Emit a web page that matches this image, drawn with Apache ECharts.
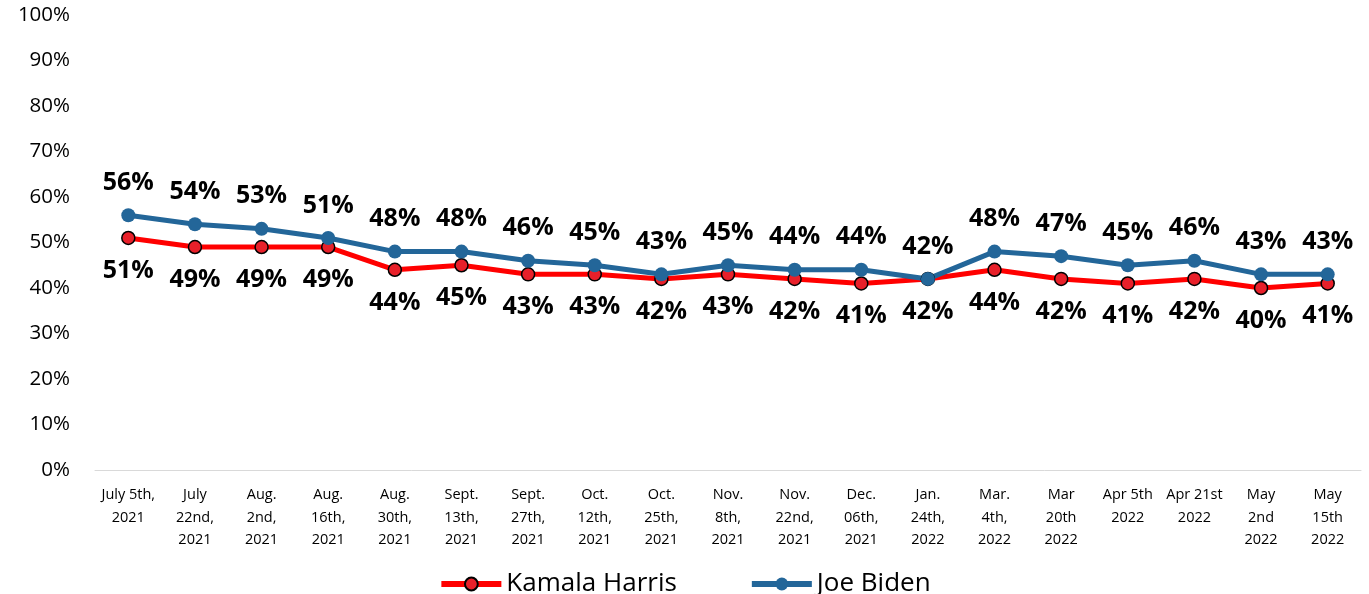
<!DOCTYPE html>
<html>
<head>
<meta charset="utf-8">
<script src="https://cdn.jsdelivr.net/npm/echarts@6/dist/echarts.min.js"></script>
<style>
  html, body { margin: 0; padding: 0; background: #fff; }
  #main { width: 1369px; height: 594px; }
</style>
</head>
<body>
<div id="main"></div>
<script>
var categories = [
  "July 5th,\n2021", "July\n22nd,\n2021", "Aug.\n2nd,\n2021", "Aug.\n16th,\n2021",
  "Aug.\n30th,\n2021", "Sept.\n13th,\n2021", "Sept.\n27th,\n2021", "Oct.\n12th,\n2021",
  "Oct.\n25th,\n2021", "Nov.\n8th,\n2021", "Nov.\n22nd,\n2021", "Dec.\n06th,\n2021",
  "Jan.\n24th,\n2022", "Mar.\n4th,\n2022", "Mar\n20th\n2022", "Apr 5th\n2022",
  "Apr 21st\n2022", "May\n2nd\n2022", "May\n15th\n2022"
];
var harris = [51, 49, 49, 49, 44, 45, 43, 43, 42, 43, 42, 41, 42, 44, 42, 41, 42, 40, 41];
var biden = [56, 54, 53, 51, 48, 48, 46, 45, 43, 45, 44, 44, 42, 48, 47, 45, 46, 43, 43];

var font = "Open Sans";
var myChart = echarts.init(document.getElementById('main'));

var option = {
    animation: false,
    textStyle: { fontFamily: font },
    grid: { left: 95, right: 8, top: 15, bottom: 124 },
    legend: {
        top: 566,
        left: 'center',
        itemGap: 72,
        itemWidth: 60,
        itemHeight: 16,
        textStyle: { fontSize: 26, color: '#000', fontFamily: font },
        data: [
            { name: 'Kamala Harris', lineStyle: { width: 6 } },
            { name: 'Joe Biden', lineStyle: { width: 6 } }
        ]
    },
    xAxis: {
        type: 'category',
        data: categories,
        axisLine: { lineStyle: { color: '#d9d9d9', width: 1 } },
        axisTick: { show: false },
        axisLabel: { color: '#000', fontSize: 14.5, lineHeight: 22.5, interval: 0, margin: 14 }
    },
    yAxis: {
        type: 'value',
        min: 0,
        max: 100,
        interval: 10,
        splitLine: { show: false },
        axisLine: { show: false },
        axisTick: { show: false },
        axisLabel: { color: '#000', fontSize: 20.5, margin: 25, formatter: '{value}%' }
    },
    series: [
        {
            name: 'Kamala Harris',
            type: 'line',
            data: harris,
            symbol: 'circle',
            symbolSize: 13,
            lineStyle: { color: '#ff0000', width: 5 },
            itemStyle: { color: '#e8202a', borderColor: '#000', borderWidth: 1.5 },
            label: {
                show: true,
                position: 'bottom',
                distance: 13,
                formatter: '{c}%',
                fontSize: 25,
                fontWeight: 'bold',
                color: '#000'
            }
        },
        {
            name: 'Joe Biden',
            type: 'line',
            data: biden,
            symbol: 'circle',
            symbolSize: 14,
            lineStyle: { color: '#236699', width: 5 },
            itemStyle: { color: '#236699' },
            label: {
                show: true,
                position: 'top',
                distance: 13,
                formatter: '{c}%',
                fontSize: 25,
                fontWeight: 'bold',
                color: '#000'
            }
        }
    ]
};

myChart.setOption(option);
</script>
</body>
</html>
